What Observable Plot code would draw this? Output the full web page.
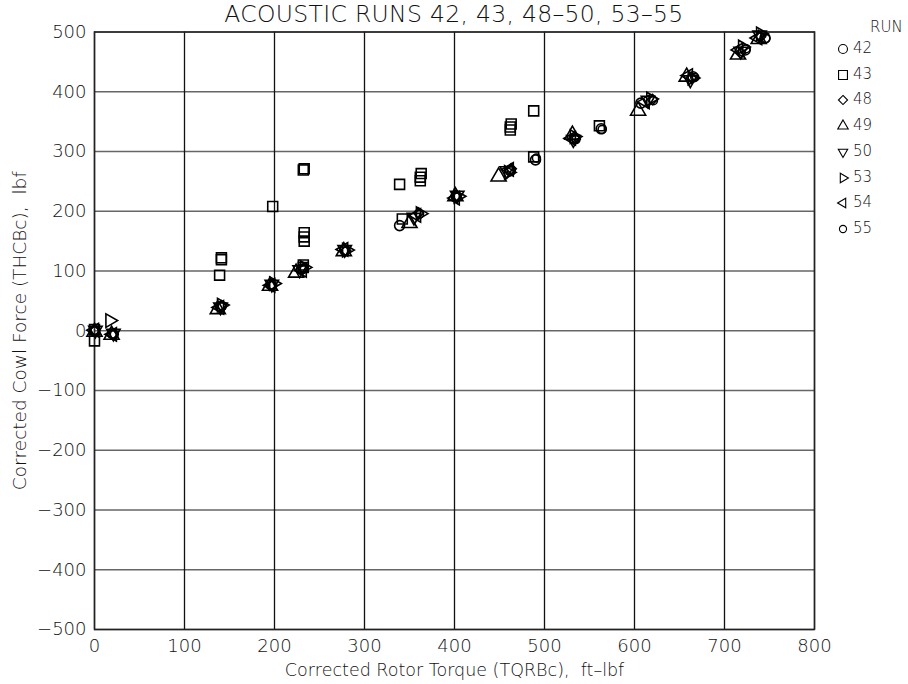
<!DOCTYPE html>
<html><head><meta charset="utf-8">
<script src="https://cdn.jsdelivr.net/npm/d3@7"></script>
<script src="https://cdn.jsdelivr.net/npm/@observablehq/plot@0.6"></script>
<style>
body{margin:0;background:#fff;}
#wrap{position:relative;width:908px;height:684px;overflow:hidden;font-family:"DejaVu Sans",sans-serif;}
#title{position:absolute;left:0;width:908px;top:0px;text-align:center;font-size:23.5px;font-weight:300;letter-spacing:0.3px;color:#111;z-index:3;}
.lg{position:absolute;font-size:15px;font-weight:300;color:#111;z-index:3;}
</style>
</head><body><div id="wrap"></div>
<script>
const titleText = "ACOUSTIC RUNS 42, 43, 48–50, 53–55";
const xLabel = "Corrected Rotor Torque (TQRBc),  ft–lbf";
const yLabel = "Corrected Cowl Force (THCBc),  lbf";
const xTicks = [0,100,200,300,400,500,600,700,800];
const yTicks = [-500,-400,-300,-200,-100,0,100,200,300,400,500];
const runs = ["42","43","48","49","50","53","54","55"];

const run42 = [[0,0],[20,-5],[140,40],[196,77],[230,103],[278,135],[339,176],[402,224],[462,268],[490,286],[533,321],[563,338],[607,381],[665,425],[723,470],[745,490]];
const run43 = [[0,2],[0,-17],[139,93],[141,119],[141,122],[198,208],[232,269],[233,271],[233,150],[233,157],[233,164],[232,106],[232,110],[339,245],[362,251],[362,257],[363,263],[342,187],[462,336],[462,341],[463,346],[488,368],[488,291],[561,343]];
const run48 = [[0,0],[20,-6],[141,42],[197,76],[232,104],[279,134],[360,197],[402,226],[463,271],[534,322],[620,387],[663,423],[718,465],[740,492]];
const run49 = [[0,-2],[19,-7],[137,36],[195,75],[224,97],[277,133],[350,180],[401,225],[449,258],[531,328],[604,368],[658,425],[715,462],[738,488]];
const run50 = [[1,1],[21,-4],[140,40],[197,78],[228,102],[278,136],[355,190],[403,227],[458,268],[532,320],[615,386],[662,420],[718,468],[739,495]];
const run53 = [[17,17],[141,43],[199,79],[233,106],[280,135],[362,196],[404,225],[460,265],[533,325],[618,388],[664,423],[720,475],[740,497]];
const run54 = [[0,1],[20,-6],[139,39],[196,76],[231,101],[277,136],[358,193],[401,222],[461,270],[530,322],[612,383],[660,427],[716,470],[737,490]];
const run55 = [[0,0],[22,-6],[142,41],[198,76],[233,104],[279,133],[361,195],[402,224],[463,268],[491,289],[535,320],[564,337],[621,385],[667,424],[724,472],[746,489]];

const runData = [run42, run43, run48, run49, run50, run53, run54, run55];
const symStyle = [
  {symbol:"circle", r:5, rotate:0},
  {symbol:"square", r:5.6, rotate:0},
  {symbol:"diamond2", r:4.6, rotate:0},
  {symbol:"triangle", r:5.6, rotate:0},
  {symbol:"triangle", r:5, rotate:180},
  {symbol:"triangle", r:5, rotate:90},
  {symbol:"triangle", r:5, rotate:-90},
  {symbol:"circle", r:4, rotate:0}
];

const FONT = "'DejaVu Sans', sans-serif";
const dotMarks = runData.map((d, i) => Plot.dot(d.map(([x, y]) => ({x, y, run: runs[i]})), {
  x: "x", y: "y", symbol: symStyle[i].symbol, r: symStyle[i].r, rotate: symStyle[i].rotate,
  stroke: "#000", strokeWidth: 1.6, fill: "none"
}));

const plot = Plot.plot({
  width: 908, height: 684,
  marginLeft: 94, marginRight: 94, marginTop: 31.5, marginBottom: 55,
  style: {fontFamily: FONT, fontSize: "18px", fontWeight: 300, color: "#111", background: "transparent"},
  x: {domain: [0, 800]},
  y: {domain: [-500, 500]},
  marks: [
    Plot.ruleY(yTicks, {stroke: "#666", strokeWidth: 1.3}),
    Plot.ruleX(xTicks, {stroke: "#111", strokeWidth: 1.3}),
    Plot.frame({stroke: "#222", strokeWidth: 1.5}),
    Plot.axisX({ticks: xTicks, tickSize: 0, tickPadding: 10, label: xLabel, labelAnchor: "center", labelArrow: "none", labelOffset: 46, fontSize: 18}),
    Plot.axisY({ticks: yTicks, tickSize: 0, tickPadding: 8, label: yLabel, labelAnchor: "center", labelArrow: "none", labelOffset: 82, fontSize: 18}),
    ...dotMarks
  ]
});
const wrap = document.getElementById("wrap");
wrap.appendChild(plot);
plot.style.position = "absolute"; plot.style.left = "0px"; plot.style.top = "0px";
plot.querySelectorAll("[aria-label='x-axis label'] text").forEach(t => { t.setAttribute("font-size", "17.5"); t.setAttribute("fill", "#111"); });
plot.querySelectorAll("[aria-label='y-axis label'] text").forEach(t => { t.setAttribute("font-size", "18.5"); t.setAttribute("fill", "#111"); });

const title = document.createElement("div");
title.id = "title"; title.textContent = titleText;
wrap.appendChild(title);

// legend
const legTop = 28, legStep = 25.7;
const head = document.createElement("div");
head.className = "lg"; head.textContent = "RUN";
head.style.left = "870px"; head.style.top = (legTop - 10) + "px";
wrap.appendChild(head);
const symMap = {circle: d3.symbolCircle, square: d3.symbolSquare, diamond2: d3.symbolDiamond2, triangle: d3.symbolTriangle2};
runs.forEach((r, i) => {
  const cy = legTop + 21 + i * legStep;
  const s = symStyle[i];
  const size = Math.PI * s.r * s.r * 0.8;
  const path = d3.symbol(symMap[s.symbol], size)();
  const svg = d3.create("svg").attr("width", 16).attr("height", 16)
    .style("position", "absolute").style("left", "835px").style("top", (cy - 8) + "px").style("z-index", 3);
  svg.append("path").attr("d", path).attr("transform", `translate(8,8) rotate(${s.rotate})`)
    .attr("fill", "none").attr("stroke", "#000").attr("stroke-width", 1.1);
  wrap.appendChild(svg.node());
  const t = document.createElement("div");
  t.className = "lg"; t.textContent = r;
  t.style.left = "853px"; t.style.top = (cy - 10) + "px";
  wrap.appendChild(t);
});
</script></body></html>
